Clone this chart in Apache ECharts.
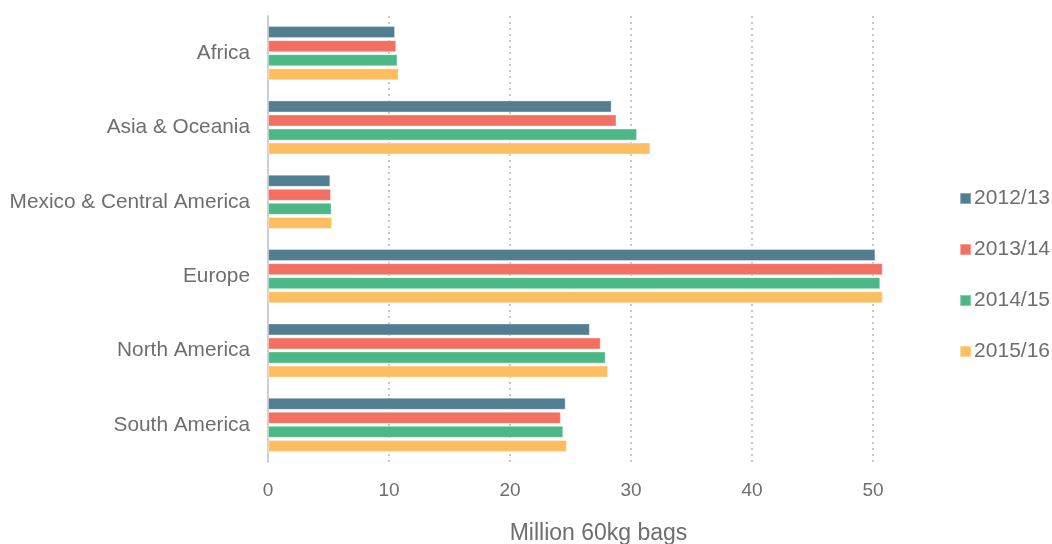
<!DOCTYPE html>
<html>
<head>
<meta charset="utf-8">
<script src="https://cdn.jsdelivr.net/npm/echarts@6/dist/echarts.min.js"></script>
<style>html,body{margin:0;padding:0;background:#fff}#c{width:1052px;height:544px}</style>
</head>
<body>
<div id="c"></div>
<script>
const categories = ["Africa", "Asia & Oceania", "Mexico & Central America", "Europe", "North America", "South America"];
const seriesNames = ["2012/13", "2013/14", "2014/15", "2015/16"];
const s2012 = [10.5, 28.4, 5.15, 50.2, 26.6, 24.6];
const s2013 = [10.6, 28.8, 5.2, 50.8, 27.5, 24.2];
const s2014 = [10.7, 30.5, 5.25, 50.6, 27.9, 24.4];
const s2015 = [10.8, 31.6, 5.3, 50.8, 28.1, 24.7];
const xTicks = [0, 10, 20, 30, 40, 50];
const colors = ["#537d90", "#f36f61", "#4bb886", "#fdbe61"];

const data = [s2012, s2013, s2014, s2015];
const chart = echarts.init(document.getElementById('c'));
chart.setOption({
  animation: false,
  color: colors,
  textStyle: { fontFamily: 'Liberation Sans, Arial, sans-serif' },
  grid: { left: 268, right: 179, top: 16, bottom: 82, containLabel: false, outerBoundsMode: 'none' },
  legend: {
    orient: 'vertical', right: -3, top: 183,
    itemWidth: 11, itemHeight: 11, itemGap: 30,
    icon: 'rect',
    textStyle: { fontSize: 21, color: '#6e6e6e', padding: [0, 0, 0, -2] },
    data: seriesNames
  },
  xAxis: {
    type: 'value', min: xTicks[0], max: xTicks[xTicks.length - 1], interval: 10,
    name: 'Million 60kg bags', nameLocation: 'middle', nameGap: 60,
    nameTextStyle: { fontSize: 23, color: '#6e6e6e', padding: [0, 0, 0, 56] },
    axisLine: { show: false }, axisTick: { show: false },
    axisLabel: { fontSize: 19, color: '#6e6e6e', margin: 19 },
    splitLine: { show: true, lineStyle: { type: [2, 4], color: '#c8c8c8', width: 2 } }
  },
  yAxis: {
    type: 'category', data: categories, inverse: true,
    axisLine: { show: true, lineStyle: { color: '#d0d0d0', width: 2 } },
    axisTick: { show: false },
    axisLabel: { fontSize: 20.8, color: '#6e6e6e', margin: 18 }
  },
  series: seriesNames.map((n, i) => ({
    name: n, type: 'bar', data: data[i], barWidth: 12, barGap: '17%', barCategoryGap: '27%',
    clip: false,
    itemStyle: { borderColor: 'rgba(255,255,255,0.35)', borderWidth: 1 }
  }))
});
</script>
</body>
</html>
